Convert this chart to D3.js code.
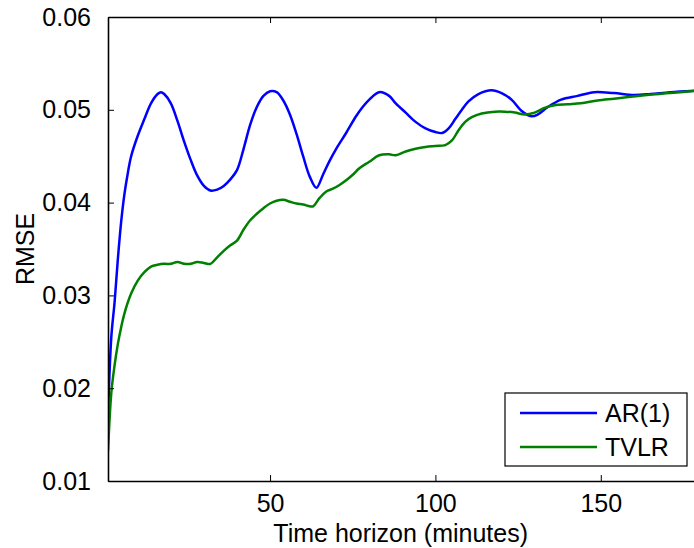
<!DOCTYPE html>
<html>
<head>
<meta charset="utf-8">
<script src="https://cdn.jsdelivr.net/npm/d3@7"></script>
<style>
  body { margin: 0; background: #fff; }
  svg { display: block; font-family: "Liberation Sans", Arial, sans-serif; }
</style>
</head>
<body>
<div id="chart"></div>
<script>
// horizon (minutes) and RMSE
let ar_t = [1, 2, 3, 4, 5, 6, 7, 8, 10, 12, 14, 16, 17, 18, 20, 22, 24, 26, 28, 30, 32, 34, 36, 38, 40, 42, 44, 46, 48, 50, 52, 54, 56, 58, 60, 62, 64, 66, 68, 70, 73, 76, 78, 80, 83, 86, 88, 91, 94, 97, 100, 102, 104, 106, 108, 110, 113, 117, 120, 123, 126, 129, 131, 134, 138, 143, 148, 154, 160, 165, 171, 180];
let ar_rmse = [0.0170, 0.0255, 0.0293, 0.0340, 0.0380, 0.0410, 0.0432, 0.0450, 0.0472, 0.0490, 0.0507, 0.0517, 0.0519, 0.0517, 0.0507, 0.0488, 0.0466, 0.0446, 0.0429, 0.0418, 0.0413, 0.0414, 0.0418, 0.0425, 0.0435, 0.0458, 0.0484, 0.0503, 0.0515, 0.0520, 0.0519, 0.0510, 0.0495, 0.0474, 0.0450, 0.0428, 0.0416, 0.0430, 0.0445, 0.0458, 0.0475, 0.0493, 0.0503, 0.0511, 0.0519, 0.0515, 0.0507, 0.0497, 0.0487, 0.0480, 0.0476, 0.0475, 0.0480, 0.0490, 0.0500, 0.0509, 0.0517, 0.0521, 0.0518, 0.0511, 0.0499, 0.0493, 0.0495, 0.0503, 0.0511, 0.0515, 0.0519, 0.0518, 0.0516, 0.0517, 0.0519, 0.0521];

let tvlr_t = [1, 2, 3, 4, 5, 6, 8, 10, 12, 14, 16, 18, 20, 22, 24, 26, 28, 30, 32, 34, 36, 38, 40, 42, 44, 46, 48, 50, 52, 54, 56, 58, 60, 62, 63, 65, 67, 69, 71, 73, 75, 77, 80, 83, 86, 88, 91, 94, 97, 100, 103, 105, 107, 109, 111, 114, 118, 121, 124, 127, 130, 133, 136, 140, 144, 149, 154, 159, 164, 171, 180];
let tvlr_rmse = [0.0132, 0.0195, 0.0225, 0.0248, 0.0266, 0.0281, 0.0302, 0.0316, 0.0325, 0.0331, 0.0333, 0.0334, 0.0334, 0.0336, 0.0334, 0.0334, 0.0336, 0.0335, 0.0334, 0.0341, 0.0348, 0.0354, 0.0359, 0.0371, 0.0381, 0.0388, 0.0394, 0.0399, 0.0402, 0.0403, 0.0401, 0.0399, 0.0398, 0.0396, 0.0396, 0.0405, 0.0412, 0.0415, 0.0419, 0.0424, 0.0430, 0.0437, 0.0444, 0.0451, 0.0452, 0.0451, 0.0455, 0.0458, 0.0460, 0.0461, 0.0462, 0.0467, 0.0478, 0.0487, 0.0492, 0.0496, 0.0498, 0.0498, 0.0497, 0.0495, 0.0497, 0.0502, 0.0505, 0.0506, 0.0507, 0.0510, 0.0512, 0.0514, 0.0516, 0.0518, 0.0521];

let x_ticks = [50, 100, 150];
let y_ticks = [0.01, 0.02, 0.03, 0.04, 0.05, 0.06];
let series_names = ["AR(1)", "TVLR"];
let series_colors = ["#0000ff", "#008000"];

let width = 694, height = 548;
let margin = ({top: 17, right: -6, bottom: 67, left: 108});
let font_size = "25px";

let svg = d3.select("#chart").append("svg")
    .attr("width", width)
    .attr("height", height);

let x = d3.scaleLinear()
    .domain([1, 180])
    .range([margin.left, width - margin.right]);
let y = d3.scaleLinear()
    .domain([0.01, 0.06])
    .range([height - margin.bottom, margin.top]);

let series = [
    ar_t.map((t, i) => ({t: t, v: ar_rmse[i]})),
    tvlr_t.map((t, i) => ({t: t, v: tvlr_rmse[i]})),
];

let line = d3.line()
    .x(d => x(d.t))
    .y(d => y(d.v))
    .curve(d3.curveCatmullRom.alpha(0.5));

svg.append("defs").append("clipPath").attr("id", "clip")
    .append("rect")
    .attr("x", margin.left).attr("y", margin.top)
    .attr("width", x(180) - margin.left).attr("height", y(0.01) - margin.top);

series.forEach((s, i) => {
    svg.append("path")
        .datum(s)
        .attr("clip-path", "url(#clip)")
        .attr("fill", "none")
        .attr("stroke", series_colors[i])
        .attr("stroke-width", 2.5)
        .attr("stroke-linejoin", "round")
        .attr("d", line);
});

// matlab style box with inward ticks
let x_axis_bottom = g => g
    .attr("transform", `translate(0, ${y(0.01)})`)
    .call(d3.axisBottom(x).tickValues(x_ticks).tickSizeInner(-6).tickSizeOuter(0).tickPadding(13))
let x_axis_top = g => g
    .attr("transform", `translate(0, ${y(0.06)})`)
    .call(d3.axisTop(x).tickValues(x_ticks).tickSizeInner(-6).tickSizeOuter(0).tickFormat(""))
let y_axis = g => g
    .attr("transform", `translate(${margin.left}, 0)`)
    .call(d3.axisLeft(y).tickValues(y_ticks).tickSizeInner(-6).tickSizeOuter(0).tickPadding(17).tickFormat(d3.format(".2f")))

let axes = [svg.append("g").call(x_axis_bottom), svg.append("g").call(x_axis_top), svg.append("g").call(y_axis)];
axes.forEach(g => {
    g.select(".domain").attr("stroke", "#000").attr("stroke-width", 1.6);
    g.selectAll(".tick line").attr("stroke", "#000").attr("stroke-width", 1);
    g.selectAll(".tick text").attr("fill", "#000").style("font-size", font_size)
        .style("font-family", "'Liberation Sans', Arial, sans-serif");
});

svg.append("text")
    .attr("x", (x(1) + x(178)) / 2)
    .attr("y", 542)
    .attr("text-anchor", "middle")
    .style("font-size", font_size)
    .text("Time horizon (minutes)");

svg.append("text")
    .attr("transform", `translate(34, ${(y(0.01) + y(0.06)) / 2}) rotate(-90)`)
    .attr("text-anchor", "middle")
    .style("font-size", font_size)
    .text("RMSE");

// legend
let legend = svg.append("g");
legend.append("rect")
    .attr("x", 505).attr("y", 393)
    .attr("width", 182).attr("height", 73)
    .attr("fill", "#fff")
    .attr("stroke", "#000")
    .attr("stroke-width", 1.2);
series_names.forEach((name, i) => {
    let ly = 413 + i * 34;
    legend.append("line")
        .attr("x1", 520).attr("x2", 597)
        .attr("y1", ly).attr("y2", ly)
        .attr("stroke", series_colors[i])
        .attr("stroke-width", 2.5);
    legend.append("text")
        .attr("x", 605).attr("y", ly)
        .attr("dy", "0.36em")
        .style("font-size", font_size)
        .text(name);
});
</script>
</body>
</html>
